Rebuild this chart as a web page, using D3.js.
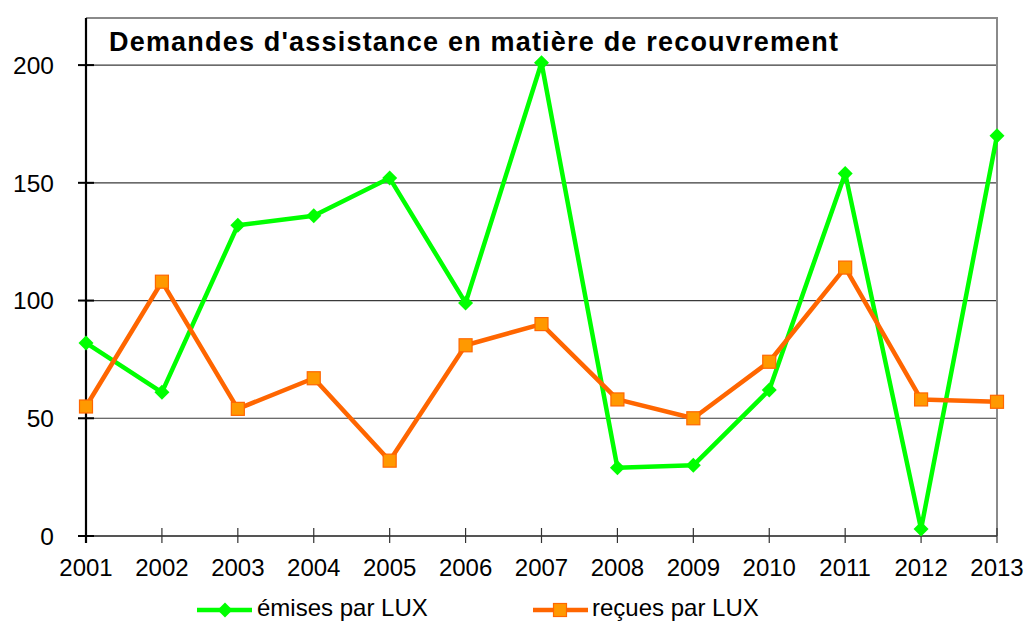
<!DOCTYPE html>
<html>
<head>
<meta charset="utf-8">
<script src="https://cdn.jsdelivr.net/npm/d3@7"></script>
<style>
html,body{margin:0;padding:0;background:#fff;}
svg{display:block;font-family:"Liberation Sans",Arial,sans-serif;}
</style>
</head>
<body>
<svg id="chart" width="1025" height="621"></svg>
<script>
const years = ["2001","2002","2003","2004","2005","2006","2007","2008","2009","2010","2011","2012","2013"];
const emises = [82, 61, 132, 136, 152, 99, 201, 29, 30, 62, 154, 3, 170];
const recues = [55, 108, 54, 67, 32, 81, 90, 58, 50, 74, 114, 58, 57];
const yTicks = [0, 50, 100, 150, 200];
const title = "Demandes d'assistance en matière de recouvrement";
const seriesNames = ["émises par LUX", "reçues par LUX"];

const svg = d3.select("#chart");
const L = 86, R = 997, T = 18, B = 536;
const x = d3.scalePoint().domain(years).range([L, R]);
const y = d3.scaleLinear().domain([0, 220]).range([B, T]);

// gridlines
svg.append("g").selectAll("line").data(yTicks.filter(d => d > 0)).join("line")
  .attr("x1", L).attr("x2", R)
  .attr("y1", d => y(d)).attr("y2", d => y(d))
  .attr("stroke", "#3a3a3a").attr("stroke-width", 1.2);

// plot border top/right
svg.append("path")
  .attr("d", `M${L},${T}H${R}V${B}`)
  .attr("fill", "none").attr("stroke", "#8a8a8a").attr("stroke-width", 2);

// x axis
svg.append("line").attr("x1", L).attr("x2", R).attr("y1", B).attr("y2", B)
  .attr("stroke", "#555").attr("stroke-width", 2);
svg.append("g").selectAll("line").data(years).join("line")
  .attr("x1", d => x(d)).attr("x2", d => x(d))
  .attr("y1", B - 8).attr("y2", B + 7)
  .attr("stroke", "#333").attr("stroke-width", 1.2);
svg.append("g").selectAll("text").data(years).join("text")
  .attr("x", d => x(d)).attr("y", 576)
  .attr("text-anchor", "middle").attr("font-size", 24).attr("fill", "#000")
  .text(d => d);

// y axis
svg.append("line").attr("x1", L).attr("x2", L).attr("y1", T).attr("y2", B + 7)
  .attr("stroke", "#000").attr("stroke-width", 2.2);
svg.append("g").selectAll("line").data(yTicks).join("line")
  .attr("x1", L - 8).attr("x2", L + 8)
  .attr("y1", d => y(d)).attr("y2", d => y(d))
  .attr("stroke", "#000").attr("stroke-width", 2);
svg.append("g").selectAll("text").data(yTicks).join("text")
  .attr("x", 54).attr("y", d => y(d))
  .attr("dy", "0.36em")
  .attr("text-anchor", "end").attr("font-size", 24.5).attr("fill", "#000")
  .text(d => d);

// title
svg.append("text").attr("x", 109).attr("y", 51)
  .attr("font-size", 27).attr("font-weight", "bold").attr("fill", "#000")
  .attr("textLength", 729).attr("lengthAdjust", "spacing")
  .text(title);

const line = d3.line().x((d, i) => x(years[i])).y(d => y(d));
const diamond = (cx, cy, r) => `M${cx},${cy - r}L${cx + r},${cy}L${cx},${cy + r}L${cx - r},${cy}Z`;

// green series
svg.append("path").datum(emises).attr("d", line)
  .attr("fill", "none").attr("stroke", "#00ff00").attr("stroke-width", 4.5)
  .attr("stroke-linejoin", "round");
svg.append("g").selectAll("path").data(emises).join("path")
  .attr("d", (d, i) => diamond(x(years[i]), y(d), 7.5))
  .attr("fill", "#00ff00");

// orange series
svg.append("path").datum(recues).attr("d", line)
  .attr("fill", "none").attr("stroke", "#ff6600").attr("stroke-width", 4.5)
  .attr("stroke-linejoin", "round");
svg.append("g").selectAll("rect").data(recues).join("rect")
  .attr("x", (d, i) => x(years[i]) - 6.5).attr("y", d => y(d) - 6.5)
  .attr("width", 13).attr("height", 13)
  .attr("fill", "#ff9900").attr("stroke", "#ff6600").attr("stroke-width", 1.2);

// legend
const lg = svg.append("g");
lg.append("line").attr("x1", 197).attr("x2", 252).attr("y1", 610).attr("y2", 610)
  .attr("stroke", "#00ff00").attr("stroke-width", 4.5);
lg.append("path").attr("d", diamond(225, 610, 7.5)).attr("fill", "#00ff00");
lg.append("text").attr("x", 257).attr("y", 616).attr("font-size", 24).text(seriesNames[0]);
lg.append("line").attr("x1", 533).attr("x2", 588).attr("y1", 610).attr("y2", 610)
  .attr("stroke", "#ff6600").attr("stroke-width", 4.5);
lg.append("rect").attr("x", 560 - 6.5).attr("y", 610 - 6.5).attr("width", 13).attr("height", 13)
  .attr("fill", "#ff9900").attr("stroke", "#ff6600").attr("stroke-width", 1.2);
lg.append("text").attr("x", 592).attr("y", 616).attr("font-size", 24).text(seriesNames[1]);
</script>
</body>
</html>
